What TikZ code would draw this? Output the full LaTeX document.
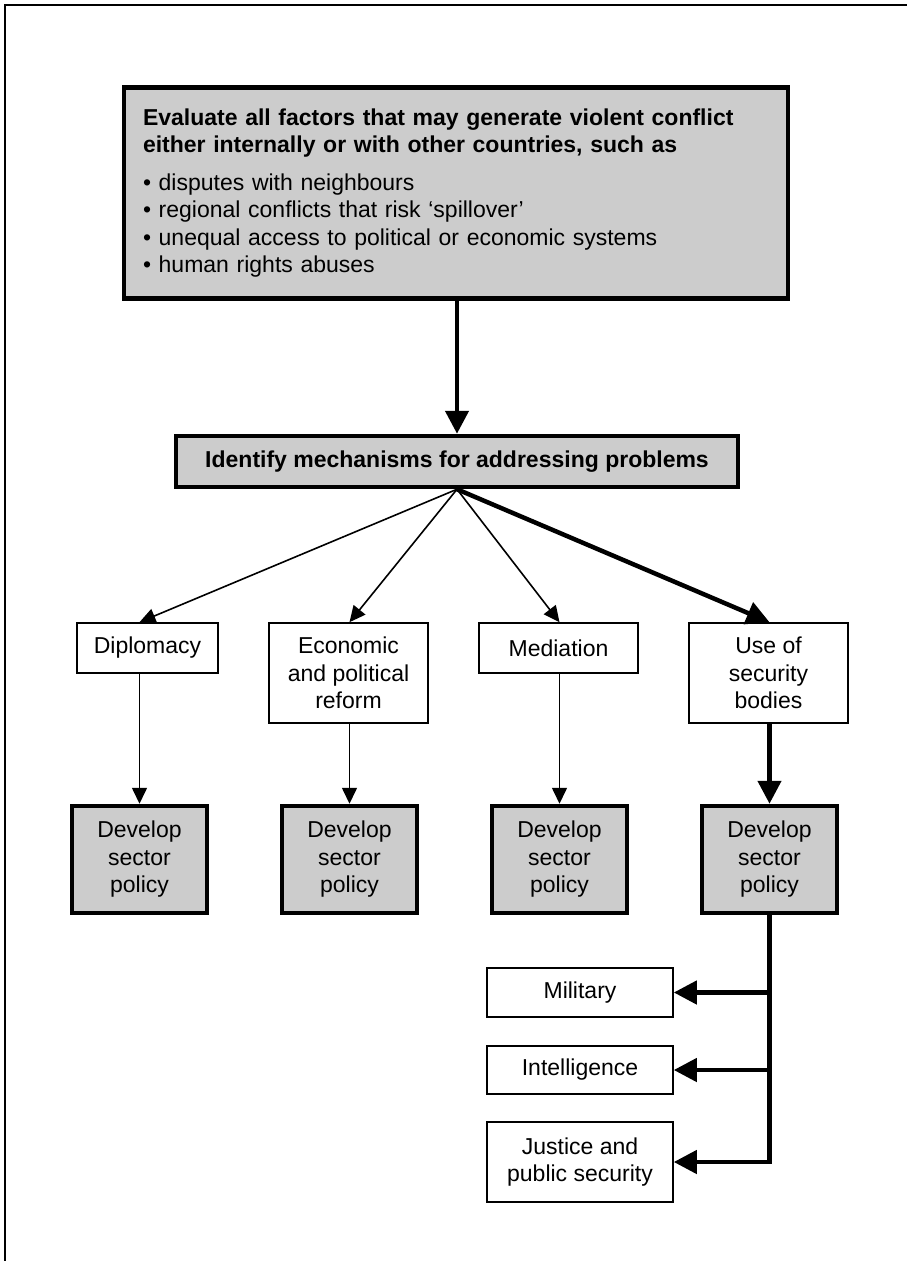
\documentclass[tikz,border=0pt]{standalone}
\usepackage{fontspec}
\setmainfont{Liberation Sans}
\usetikzlibrary{arrows.meta}
\definecolor{boxgray}{HTML}{CCCCCC}
\begin{document}
\begin{tikzpicture}[x=1pt,y=-1pt,
  font=\fontsize{23}{27.5}\selectfont,
  graybox/.style={draw, line width=4.5pt, fill=boxgray, inner sep=0pt, align=center},
  whitebox/.style={draw, line width=1.6pt, fill=white, inner sep=0pt, align=center},
  thinarrow/.style={line width=1.6pt, -{Triangle[length=16pt,width=15pt]}},
  thickarrow/.style={line width=4.5pt, -{Triangle[length=23pt,width=23pt]}},
  frameline/.style={line width=1.8pt}]
\useasboundingbox (0,0) rectangle (907,1261);
% frame
\draw[frameline] (5,1261) -- (5,5) -- (907,5);
% axis of the main arrow
\coordinate (ax) at (457,0);
% top box
\node[graybox, minimum width=664, minimum height=211, text width=626, inner xsep=19pt, align=left] (top) at (456,193)
 {\textbf{Evaluate all factors that may generate violent conflict}\\\textbf{either internally or with other countries, such as}\\[10pt]
  • disputes with neighbours\\
  • regional conflicts that risk ‘spillover’\\
  • unequal access to political or economic systems\\
  • human rights abuses};
% identify box
\node[graybox, minimum width=562, minimum height=51, font=\fontsize{23}{27.5}\selectfont\bfseries] (ident) at (457,461.5)
 {Identify mechanisms for addressing problems};
% level 2
\node[whitebox, minimum width=141, minimum height=50] (dipl) at (147.5,648) {Diplomacy};
\node[whitebox, minimum width=159, minimum height=100] (econ) at (348.5,673) {Economic\\and political\\reform};
\node[whitebox, minimum width=159, minimum height=50] (medi) at (558.5,648) {Mediation};
\node[whitebox, minimum width=159, minimum height=100] (secu) at (768.5,673) {Use of\\security\\bodies};
% develop boxes
\node[graybox, minimum width=135, minimum height=107] (dev1) at (139.5,859.5) {Develop\\sector\\policy};
\node[graybox, minimum width=135, minimum height=107] (dev2) at (349.5,859.5) {Develop\\sector\\policy};
\node[graybox, minimum width=135, minimum height=107] (dev3) at (559.5,859.5) {Develop\\sector\\policy};
\node[graybox, minimum width=135, minimum height=107] (dev4) at (769.5,859.5) {Develop\\sector\\policy};
% bottom boxes
\node[whitebox, minimum width=186, minimum height=49] (mil) at (580,992.5) {Military};
\node[whitebox, minimum width=186, minimum height=48] (intel) at (580,1070) {Intelligence};
\node[whitebox, minimum width=186, minimum height=80] (just) at (580,1162) {Justice and\\public security};
% connectors
\draw[thickarrow] (top.south -| ax) -- (ident.north -| ax);
\draw[thinarrow] (ident.south -| ax) -- (dev1 |- dipl.north);
\draw[thinarrow] (ident.south -| ax) -- (dev2 |- econ.north);
\draw[thinarrow] (ident.south -| ax) -- (dev3 |- medi.north);
\draw[thickarrow] (ident.south -| ax) -- (dev4 |- secu.north);
\draw[thinarrow] (dev1 |- dipl.south) -- (dev1.north);
\draw[thinarrow] (dev2 |- econ.south) -- (dev2.north);
\draw[thinarrow] (dev3 |- medi.south) -- (dev3.north);
\draw[thickarrow] (dev4 |- secu.south) -- (dev4.north);
\draw[thickarrow] (dev4.south) |- (just.east);
\draw[thickarrow] (dev4.south |- mil.east) -- (mil.east);
\draw[thickarrow] (dev4.south |- intel.east) -- (intel.east);
\end{tikzpicture}
\end{document}
